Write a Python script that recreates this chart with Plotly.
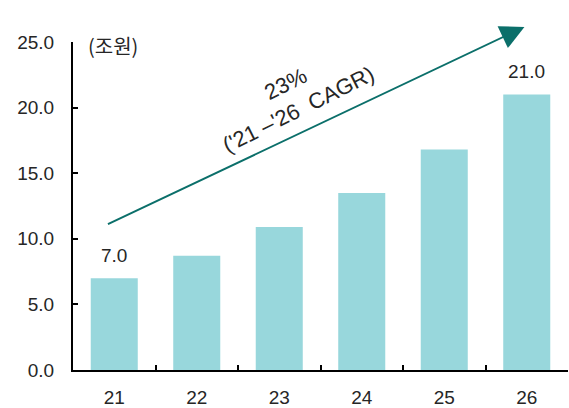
import plotly.graph_objects as go

# Market size by year (unit: trillion KRW)
years = ["21", "22", "23", "24", "25", "26"]
values = [7.0, 8.7, 10.9, 13.5, 16.8, 21.0]
labelled_years = ["21", "26"]
y_ticks = [0, 5, 10, 15, 20, 25]
cagr_text = "23%<br>('21 –'26  CAGR)"
unit_text = "(조원)"

BAR_COLOR = "#98d7dc"
ARROW_COLOR = "#0b6f6a"
TEXT_COLOR = "#262626"
FONT = "Liberation Sans, Arial, Noto Sans CJK KR, sans-serif"

fig = go.Figure()
fig.add_trace(go.Bar(
    x=years, y=values, width=0.57,
    marker=dict(color=BAR_COLOR, line=dict(width=0)),
    hoverinfo="skip",
))

# value labels above the first and last bars (positioned by category index)
for i, (yr, v) in enumerate(zip(years, values)):
    if yr in labelled_years:
        fig.add_annotation(
            x=i, y=v, xref="x", yref="y", text=f"{v:.1f}",
            showarrow=False, yanchor="bottom", yshift=10,
            font=dict(family=FONT, size=19, color=TEXT_COLOR),
        )

# unit label next to the top of the y axis
fig.add_annotation(
    x=0.027, y=1.0, xref="paper", yref="paper", text=unit_text,
    showarrow=False, xanchor="left", yanchor="middle", yshift=-3,
    font=dict(family="Noto Sans CJK KR, sans-serif", size=20, color=TEXT_COLOR),
)

# growth arrow
fig.add_annotation(
    x=0.912, y=1.046, xref="paper", yref="paper",
    ax=-418, ay=198, axref="pixel", ayref="pixel",
    text="", showarrow=True, arrowhead=2, arrowsize=2.4, arrowwidth=2,
    arrowcolor=ARROW_COLOR, standoff=0, startstandoff=0,
)

# CAGR caption, rotated along the arrow
fig.add_annotation(
    x=0.442, y=0.833, xref="paper", yref="paper", text=cagr_text,
    showarrow=False, textangle=-26.5, align="center",
    xanchor="center", yanchor="middle",
    font=dict(family=FONT, size=22, color=TEXT_COLOR),
)

fig.update_layout(
    width=569, height=408,
    margin=dict(l=73, r=1, t=42, b=38),
    paper_bgcolor="white", plot_bgcolor="white",
    showlegend=False,
    font=dict(family=FONT, size=19, color=TEXT_COLOR),
)
fig.update_xaxes(
    type="category", tickson="boundaries", range=[-0.5, 5.5],
    showline=True, linecolor="black", linewidth=2,
    ticks="inside", ticklen=5, tickwidth=2, tickcolor="black",
    showgrid=False, zeroline=False, tickangle=0,
    ticklabelstandoff=9,
    tickfont=dict(family=FONT, size=19, color=TEXT_COLOR),
)
fig.update_yaxes(
    range=[0, 25], tickvals=y_ticks,
    ticktext=[f"{t:.1f}" for t in y_ticks],
    showline=True, linecolor="black", linewidth=2,
    ticks="inside", ticklen=5, tickwidth=2, tickcolor="black",
    showgrid=False, zeroline=False,
    ticklabelstandoff=13,
    tickfont=dict(family=FONT, size=19, color=TEXT_COLOR),
)

fig.write_html("out.html")
